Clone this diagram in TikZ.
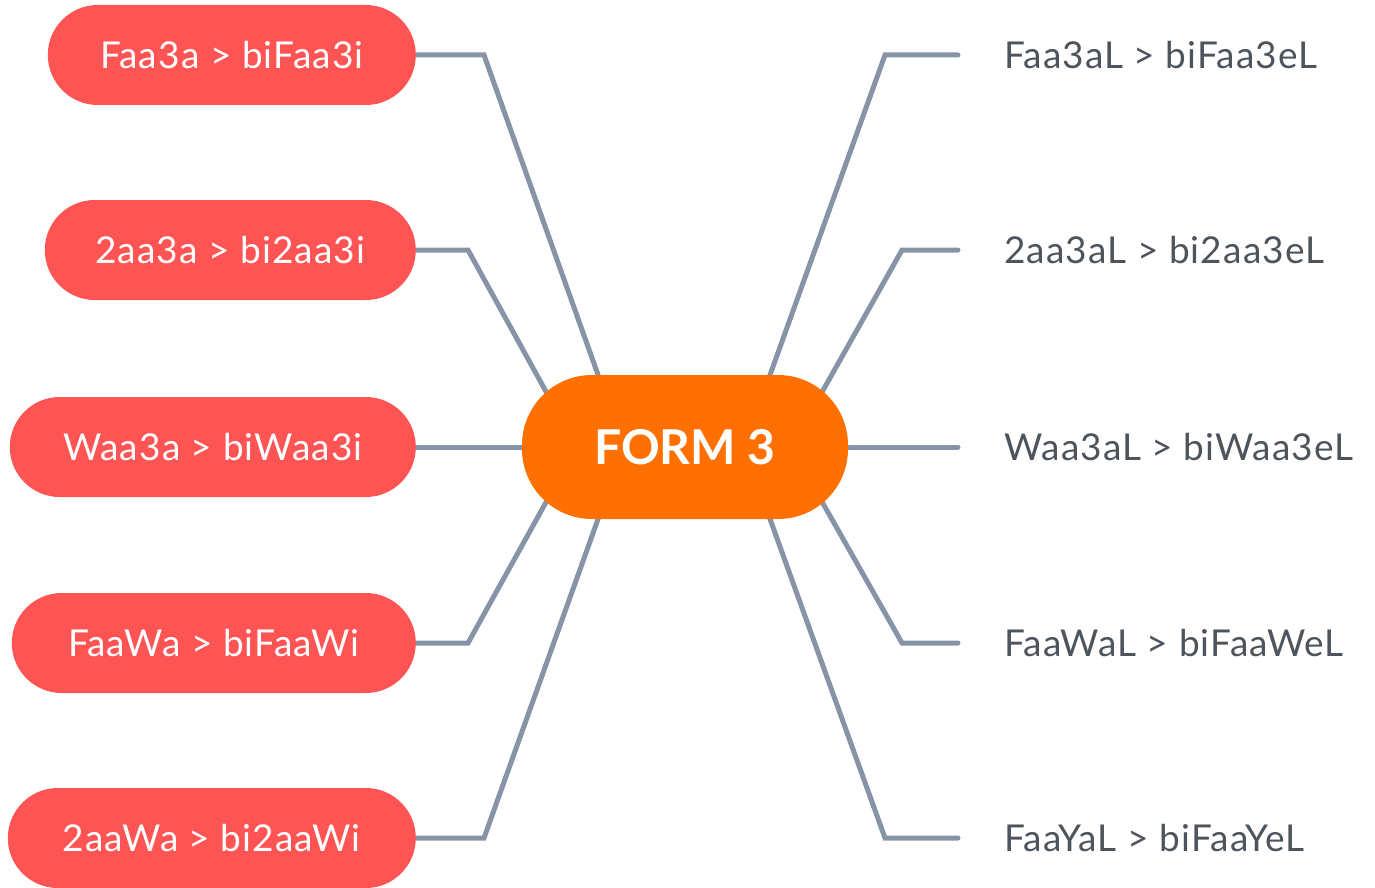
\documentclass[tikz,border=0pt]{standalone}
\usepackage{fontspec}
\setmainfont{Lato}
\newfontfamily\labelfont[LetterSpace=3]{Lato}
\usetikzlibrary{backgrounds}
\definecolor{pillred}{HTML}{FF5454}
\definecolor{centerorange}{HTML}{FF7000}
\definecolor{linegray}{HTML}{8793A6}
\definecolor{textgray}{HTML}{4D545C}
\tikzset{
  pill/.style={fill=pillred, text=white, rounded corners=50pt, minimum height=100pt,
    inner sep=0pt, anchor=east, font=\labelfont\fontsize{37}{42}\selectfont},
  center/.style={fill=centerorange, text=white, rounded corners=70pt, minimum width=326pt,
    minimum height=144pt, inner sep=0pt, font=\fontsize{48}{54}\selectfont\bfseries},
  leaf/.style={text=textgray, inner sep=0pt, anchor=west, font=\labelfont\fontsize{37}{42}\selectfont},
  conn/.style={draw=linegray, line width=5pt, line cap=round, line join=miter}
}
\begin{document}
\begin{tikzpicture}[x=1pt,y=-1pt]
\useasboundingbox (0,0) rectangle (1375,888);
\node[center] (C) at (685,447) {FORM 3};
\node[pill, minimum width=368pt] (L1) at (416,55) {Faa3a > biFaa3i};
\node[pill, minimum width=371pt] (L2) at (416,250) {2aa3a > bi2aa3i};
\node[pill, minimum width=406pt] (L3) at (416,447) {Waa3a > biWaa3i};
\node[pill, minimum width=404pt] (L4) at (416,643) {FaaWa > biFaaWi};
\node[pill, minimum width=408pt] (L5) at (416,838) {2aaWa > bi2aaWi};
\node[leaf] (R1) at (1004,55) {Faa3aL > biFaa3eL};
\node[leaf] (R2) at (1004,250) {2aa3aL > bi2aa3eL};
\node[leaf] (R3) at (1004,447) {Waa3aL > biWaa3eL};
\node[leaf] (R4) at (1004,643) {FaaWaL > biFaaWeL};
\node[leaf] (R5) at (1004,838) {FaaYaL > biFaaYeL};
\begin{pgfonlayer}{background}
\coordinate (a1) at (484,55);  \coordinate (c1) at (607,400);
\coordinate (a2) at (468,250); \coordinate (c2) at (560,417);
\coordinate (a4) at (468,643); \coordinate (c4) at (560,477);
\coordinate (a5) at (484,838); \coordinate (c5) at (607,494);
\coordinate (b1) at (885,55);  \coordinate (d1) at (761,400);
\coordinate (b2) at (902,250); \coordinate (d2) at (808,417);
\coordinate (b4) at (902,643); \coordinate (d4) at (808,477);
\coordinate (b5) at (885,838); \coordinate (d5) at (761,494);
\coordinate (e1) at (958,55);
\coordinate (e2) at (958,250);
\coordinate (e3) at (958,447);
\coordinate (e4) at (958,643);
\coordinate (e5) at (958,838);
\draw[conn] (L1.east) -- (a1) -- (c1);
\draw[conn] (L2.east) -- (a2) -- (c2);
\draw[conn] (L3.east) -- (C.west);
\draw[conn] (L4.east) -- (a4) -- (c4);
\draw[conn] (L5.east) -- (a5) -- (c5);
\draw[conn] (d1) -- (b1) -- (e1);
\draw[conn] (d2) -- (b2) -- (e2);
\draw[conn] (C.east) -- (e3);
\draw[conn] (d4) -- (b4) -- (e4);
\draw[conn] (d5) -- (b5) -- (e5);
\end{pgfonlayer}
\end{tikzpicture}
\end{document}
